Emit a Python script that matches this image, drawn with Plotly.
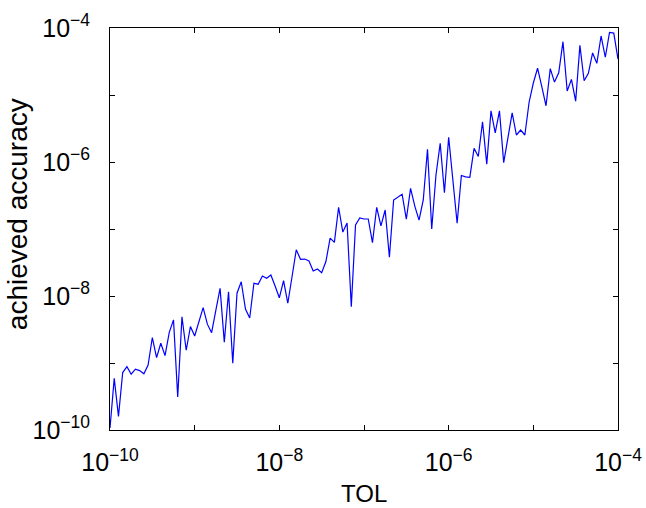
import numpy as np
import plotly.graph_objects as go

# TOL values: 121 points, log-spaced from 1e-10 to 1e-4
tol_exp_start = -10
tol_exp_end = -4
n_points = 121
tol = np.logspace(tol_exp_start, tol_exp_end, n_points)

accuracy = [
    1.07e-10, 5.9e-10, 1.6e-10, 7.2e-10, 8.8e-10, 6.8e-10, 8.1e-10, 7.7e-10, 6.9e-10, 9.3e-10,
    2.4e-9, 1.2e-9, 1.97e-9, 1.29e-9, 2.87e-9, 4.4e-9, 3.1e-10, 4.9e-9, 1.55e-9, 3.5e-9,
    2.53e-9, 4.1e-9, 6.7e-9, 3.8e-9, 2.83e-9, 6.1e-9, 1.30e-8, 2.04e-9, 1.16e-8, 9.9e-10,
    1.10e-8, 1.63e-8, 6.4e-9, 4.7e-9, 1.55e-8, 1.50e-8, 1.99e-8, 1.84e-8, 2.06e-8, 1.41e-8,
    9.4e-9, 1.70e-8, 7.8e-9, 1.94e-8, 4.9e-8, 3.53e-8, 3.56e-8, 3.33e-8, 2.36e-8, 2.53e-8,
    2.23e-8, 3.27e-8, 7.3e-8, 6.3e-8, 2.11e-7, 9.0e-8, 1.23e-7, 6.9e-9, 1.15e-7, 1.46e-7,
    1.41e-7, 1.41e-7, 6.25e-8, 2.11e-7, 1.11e-7, 1.92e-7, 3.79e-8, 2.71e-7, 3.03e-7, 3.30e-7,
    1.40e-7, 4.05e-7, 2.20e-7, 1.36e-7, 2.71e-7, 1.55e-6, 1.0e-7, 6.4e-7, 1.90e-6, 3.48e-7,
    2.34e-6, 5.3e-7, 1.22e-7, 6.3e-7, 6.0e-7, 5.9e-7, 1.60e-6, 1.21e-6, 3.99e-6, 9.3e-7,
    5.8e-6, 2.73e-6, 5.8e-6, 9.8e-7, 2.32e-6, 5.4e-6, 2.53e-6, 3.0e-6, 2.53e-6, 7.8e-6,
    1.51e-5, 2.51e-5, 1.33e-5, 6.9e-6, 2.47e-5, 1.56e-5, 2.14e-5, 6.25e-5, 1.15e-5, 1.71e-5,
    8.1e-6, 5.5e-5, 1.63e-5, 2.11e-5, 4.24e-5, 2.97e-5, 7.6e-5, 3.66e-5, 8.6e-5, 8.4e-5,
    3.44e-5,
]

tick_vals = [1e-10, 1e-9, 1e-8, 1e-7, 1e-6, 1e-5, 1e-4]
tick_text = ["10<sup>\u221210</sup>", "", "10<sup>\u22128</sup>", "",
             "10<sup>\u22126</sup>", "", "10<sup>\u22124</sup>"]

x_title = "TOL"
y_title = "achieved accuracy"

FONT = "Liberation Sans, Arial, Helvetica, sans-serif"

fig = go.Figure()
fig.add_trace(go.Scatter(
    x=tol, y=accuracy, mode="lines",
    line=dict(color="#0000ff", width=1.2),
    showlegend=False,
))

axis_common = dict(
    type="log",
    showgrid=False,
    zeroline=False,
    showline=True,
    linecolor="black",
    linewidth=1,
    mirror="ticks",
    ticks="inside",
    ticklen=5,
    tickcolor="black",
    tickwidth=1,
    tickvals=tick_vals,
    ticktext=tick_text,
    automargin=False,
    tickfont=dict(family=FONT, size=25, color="black"),
)

fig.update_xaxes(**axis_common, range=[-10, -4], ticklabelstandoff=10)
fig.update_yaxes(**axis_common, range=[-10, -4], ticklabelstandoff=14)

fig.add_annotation(
    text=x_title, xref="paper", yref="paper", x=0.5, y=-0.157,
    xanchor="center", yanchor="middle", showarrow=False,
    font=dict(family=FONT, size=24, color="black"),
)
fig.add_annotation(
    text=y_title, xref="paper", yref="paper", x=-0.183, y=0.537,
    xanchor="center", yanchor="middle", showarrow=False, textangle=-90,
    font=dict(family=FONT, size=28, color="black"),
)

fig.update_layout(
    width=646, height=508,
    margin=dict(l=110, r=28, t=28, b=78),
    paper_bgcolor="white",
    plot_bgcolor="white",
)

fig.write_html("out.html")
